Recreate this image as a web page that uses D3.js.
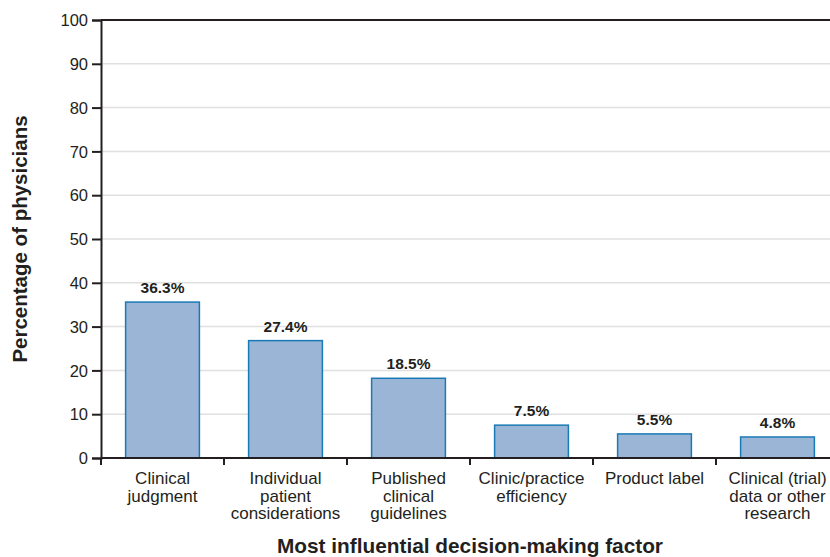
<!DOCTYPE html>
<html>
<head>
<meta charset="utf-8">
<script src="https://cdn.jsdelivr.net/npm/d3@7"></script>
<style>
  body { margin: 0; background: #fff; }
  svg { font-family: "Liberation Sans", Arial, sans-serif; }
</style>
</head>
<body>
<div id="chart"></div>
<script>
// Data
const categories = [
  ["Clinical", "judgment"],
  ["Individual", "patient", "considerations"],
  ["Published", "clinical", "guidelines"],
  ["Clinic/practice", "efficiency"],
  ["Product label"],
  ["Clinical (trial)", "data or other", "research"],
];
const barValues = [35.6, 26.8, 18.2, 7.5, 5.5, 4.8];
const valueLabels = ["36.3%", "27.4%", "18.5%", "7.5%", "5.5%", "4.8%"];
const yTicks = [0, 10, 20, 30, 40, 50, 60, 70, 80, 90, 100];

// Sizes
const WIDTH = 830;
const HEIGHT = 557;
const margin = { top: 20, right: -9, bottom: 99, left: 101 };
const innerW = WIDTH - margin.left - margin.right;
const innerH = HEIGHT - margin.top - margin.bottom;

const svg = d3
  .select("#chart")
  .append("svg")
  .attr("width", WIDTH)
  .attr("height", HEIGHT);

const g = svg
  .append("g")
  .attr("transform", "translate(" + margin.left + "," + margin.top + ")");

// Scales
const x = d3
  .scaleBand()
  .domain(d3.range(categories.length))
  .range([0, innerW])
  .paddingInner(0.4)
  .paddingOuter(0.2);

const y = d3.scaleLinear().domain([0, 100]).range([innerH, 0]);

// Gridlines
g.selectAll(".grid")
  .data(yTicks.filter((t) => t > 0 && t < 100))
  .enter()
  .append("line")
  .attr("x1", 0)
  .attr("x2", innerW)
  .attr("y1", (d) => y(d))
  .attr("y2", (d) => y(d))
  .attr("stroke", "#e0e0e0")
  .attr("stroke-width", 1.5);

// Top line
g.append("line")
  .attr("x1", 0)
  .attr("x2", innerW)
  .attr("y1", y(100))
  .attr("y2", y(100))
  .attr("stroke", "#231f20")
  .attr("stroke-width", 2);

// Y axis
const yAxis = g
  .append("g")
  .call(d3.axisLeft(y).tickValues(yTicks).tickSize(9).tickPadding(4));
yAxis.select(".domain").attr("stroke", "#231f20").attr("stroke-width", 2);
yAxis.selectAll(".tick line").attr("stroke", "#231f20").attr("stroke-width", 2);
yAxis
  .selectAll(".tick text")
  .attr("fill", "#231f20")
  .style("font-size", "16.5px")
  .attr("dy", "0.35em");

// Bars
g.selectAll(".bar")
  .data(barValues)
  .enter()
  .append("rect")
  .attr("class", "bar")
  .attr("x", (d, i) => x(i))
  .attr("y", (d) => y(d))
  .attr("width", x.bandwidth())
  .attr("height", (d) => innerH - y(d))
  .attr("fill", "#9bb5d6")
  .attr("stroke", "#1a7ab5")
  .attr("stroke-width", 1.5);

// Value labels
g.selectAll(".val")
  .data(barValues)
  .enter()
  .append("text")
  .attr("x", (d, i) => x(i) + x.bandwidth() / 2)
  .attr("y", (d) => y(d) - 9)
  .attr("text-anchor", "middle")
  .attr("fill", "#231f20")
  .style("font-size", "15.5px")
  .style("font-weight", "bold")
  .text((d, i) => valueLabels[i]);

// X axis line
g.append("line")
  .attr("x1", 0)
  .attr("x2", innerW)
  .attr("y1", innerH)
  .attr("y2", innerH)
  .attr("stroke", "#231f20")
  .attr("stroke-width", 2);

// X ticks at band boundaries
const step = x.step();
g.selectAll(".xtick")
  .data(d3.range(categories.length))
  .enter()
  .append("line")
  .attr("x1", (i) => x(i) - step * 0.2)
  .attr("x2", (i) => x(i) - step * 0.2)
  .attr("y1", innerH)
  .attr("y2", innerH + 7)
  .attr("stroke", "#231f20")
  .attr("stroke-width", 2);

// Category labels
const catText = g
  .selectAll(".cat")
  .data(categories)
  .enter()
  .append("text")
  .attr("text-anchor", "middle")
  .attr("fill", "#231f20")
  .style("font-size", "17px")
  .attr("transform", (d, i) =>
    "translate(" + (x(i) + x.bandwidth() / 2) + "," + (innerH + 26) + ")"
  );
catText
  .selectAll("tspan")
  .data((d) => d)
  .enter()
  .append("tspan")
  .attr("x", 0)
  .attr("y", (d, j) => j * 17.6)
  .text((d) => d);

// Axis titles
svg
  .append("text")
  .attr("x", margin.left + (WIDTH - margin.left + 9) / 2)
  .attr("y", 553)
  .attr("text-anchor", "middle")
  .attr("fill", "#231f20")
  .style("font-size", "20.8px")
  .style("font-weight", "bold")
  .text("Most influential decision-making factor");

svg
  .append("text")
  .attr("transform", "translate(27," + (margin.top + innerH / 2) + ") rotate(-90)")
  .attr("text-anchor", "middle")
  .attr("fill", "#231f20")
  .style("font-size", "20.5px")
  .style("font-weight", "bold")
  .text("Percentage of physicians");
</script>
</body>
</html>
